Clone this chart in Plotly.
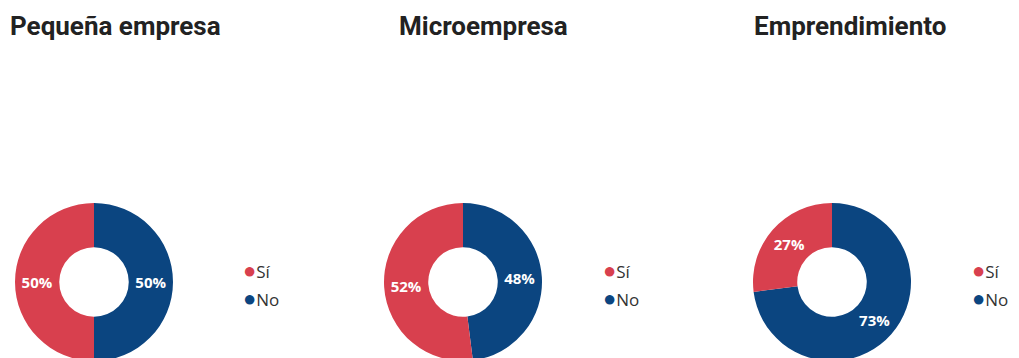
import plotly.graph_objects as go

titles = ["Pequeña empresa", "Microempresa", "Emprendimiento"]
labels = ["Sí", "No"]
si_values = [50, 52, 27]
no_values = [50, 48, 73]
colors = ["#D8404E", "#0B4580"]

# layout helpers, figure pixels (the page body adds an 8px offset)
W, H = 1019, 358
centers_x = [86, 455, 824]
center_y = 274
radius = 79
title_x = [0, 389, 744]
title_y = 18
legend_x = [233, 593, 962]
legend_y = [261, 289]

fig = go.Figure()
for i, (si, no) in enumerate(zip(si_values, no_values)):
    cx = centers_x[i]
    cy = H - center_y
    # "No" first so it runs clockwise from 12 o'clock and "Sí" sits on the left
    fig.add_trace(go.Pie(
        labels=labels[::-1],
        values=[no, si],
        hole=0.44,
        sort=False,
        direction="clockwise",
        rotation=0,
        marker=dict(colors=colors[::-1], line=dict(width=0)),
        texttemplate="%{percent:.0%}",
        textposition="inside",
        insidetextorientation="horizontal",
        textfont=dict(family="Open Sans", size=15, color="white", weight="bold"),
        showlegend=False,
        domain=dict(x=[(cx - radius) / W, (cx + radius) / W],
                    y=[(cy - radius) / H, (cy + radius) / H]),
    ))
    fig.add_annotation(
        text=titles[i], x=title_x[i] / W, y=1 - title_y / H,
        xref="paper", yref="paper", xanchor="left", yanchor="middle",
        showarrow=False,
        font=dict(family="Roboto", size=26, color="#222222", weight="bold"),
    )
    # legend drawn as annotations so the dot sits right against the label
    for lab, col, ly in zip(labels, colors, legend_y):
        fig.add_annotation(
            text=f"<span style='color:{col};font-size:22px'>●</span>{lab}",
            x=legend_x[i] / W, y=1 - ly / H,
            xref="paper", yref="paper", xanchor="left", yanchor="middle",
            showarrow=False,
            font=dict(family="Open Sans", size=17, color="#333333"),
        )

fig.update_layout(
    width=W, height=H,
    margin=dict(l=0, r=0, t=0, b=0),
    paper_bgcolor="white", plot_bgcolor="white",
    showlegend=False,
)

fig.write_html("out.html")
